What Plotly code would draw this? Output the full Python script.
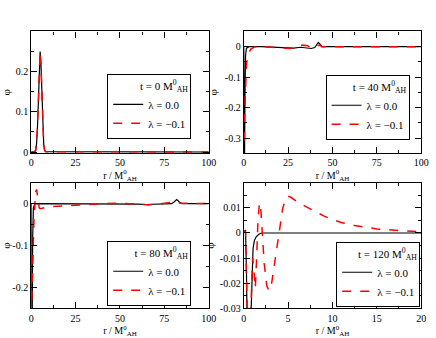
import plotly.graph_objects as go

# t = 0
r_t0 = [0, 2, 2.5, 3, 3.5, 4, 4.5, 5, 5.5, 6, 6.5, 7, 7.5, 8, 100]
phi_t0_l0 = [0, 0.001, 0.005, 0.021, 0.062, 0.135, 0.214, 0.25, 0.214, 0.135, 0.062, 0.021, 0.005, 0.001, 0]
phi_t0_l1 = [0, 0.001, 0.005, 0.021, 0.062, 0.135, 0.214, 0.25, 0.214, 0.135, 0.062, 0.021, 0.005, 0.001, 0]

# t = 40
r_t40_l0 = [0, 0.15, 0.4, 0.7, 1.0, 1.5, 3, 10, 15, 20, 25, 28, 32, 36, 38, 40, 41, 42, 43, 44, 46, 100]
phi_t40_l0 = [0, -0.4, -0.4, -0.15, -0.03, -0.005, 0, 0, -0.002, -0.004, -0.006, -0.005, -0.002, -0.004, -0.006,
              -0.003, 0.005, 0.014, 0.008, 0, 0, 0]
r_t40_l1 = [0.1, 0.3, 0.6, 1.0, 1.5, 2, 2.5, 3, 4, 5, 6, 8, 12, 18, 22, 26, 29, 33, 36, 38, 40, 41.5, 43, 44, 46, 100]
phi_t40_l1 = [-0.31, -0.3, -0.2, -0.1, -0.06, -0.04, -0.028, -0.018, -0.008, -0.003, -0.001, 0, 0, -0.003, -0.005,
              -0.006, -0.002, 0.005, 0.003, -0.005, -0.002, 0.004, 0.005, 0, 0, 0]

# t = 80
r_t80_l0 = [0, 0.15, 0.5, 0.8, 1.2, 2, 10, 50, 60, 65, 70, 75, 79, 80.5, 82, 83.5, 85, 100]
phi_t80_l0 = [0, -0.4, -0.3, -0.08, -0.01, 0, 0, 0, -0.001, -0.002, -0.001, 0, 0, 0.004, 0.01, 0.004, 0, 0]
r_t80_l1 = [0.3, 0.6, 1.0, 1.5, 2.0, 2.5, 3.0, 3.5, 4.0, 4.5, 5, 6, 8, 12, 20, 30, 40, 50, 60, 66, 72, 78, 82, 84,
            90, 100]
phi_t80_l1 = [-0.23, -0.2, -0.12, -0.04, 0.005, 0.028, 0.034, 0.02, 0.0, -0.01, -0.012, -0.011, -0.009, -0.007,
              -0.005, -0.002, 0, 0.001, -0.001, -0.003, -0.001, 0.002, 0.005, 0.001, 0, 0]

# t = 120
r_t120_l0 = [0, 0.1, 0.2, 0.3, 0.4, 0.75, 0.85, 0.95, 1.05, 1.2, 1.4, 1.7, 2.0, 2.5, 20]
phi_t120_l0 = [0, 0.001, 0.0012, -0.015, -0.04, -0.04, -0.025, -0.01, -0.006, -0.003, -0.0015, -0.0005, 0, 0, 0]
r_t120_l1 = [0, 0.1, 0.2, 0.3, 0.45, 0.7, 0.85, 1.0, 1.15, 1.3, 1.45, 1.6, 1.75, 1.85, 1.95, 2.1, 2.3, 2.6, 2.85,
             3.1, 3.5, 3.95, 4.4, 4.8, 5.0, 5.3, 6, 7, 7.5, 8, 9, 10, 11, 12.5, 14, 15, 17.5, 20]
phi_t120_l1 = [0, 0.001, 0, -0.02, -0.04, -0.04, -0.02, -0.01, -0.015, -0.022, -0.01, 0.005, 0.011, 0.012, 0.008,
               -0.001, -0.012, -0.021, -0.023, -0.021, -0.012, 0, 0.01, 0.0142, 0.0146, 0.0142, 0.0125, 0.0105,
               0.0096, 0.0085, 0.0068, 0.0053, 0.0042, 0.003, 0.0021, 0.0016, 0.001, 0.0005]

times = ["0", "40", "80", "120"]
lam_names = ["λ = 0.0", "λ = −0.1"]

xtick_big = [0, 25, 50, 75, 100]
xtick_big_text = ["0", "25", "50", "75", "100"]
xtick_small = [0, 5, 10, 15, 20]
xtick_small_text = ["0", "5", "10", "15", "20"]
ytick_1 = [0, 0.1, 0.2]
ytick_1_text = ["0", "0.1", "0.2"]
ytick_2 = [0, -0.1, -0.2, -0.3]
ytick_2_text = ["0", "-0.1", "-0.2", "-0.3"]
ytick_3 = [0, -0.1, -0.2]
ytick_3_text = ["0", "-0.1", "-0.2"]
ytick_4 = [0.01, 0, -0.01, -0.02, -0.03]
ytick_4_text = ["0.01", "0", "-0.01", "-0.02", "-0.03"]

FONT = "Liberation Serif"
W, H = 436, 338

# pixel boxes of the four plot areas: (x0, x1, ytop, ybottom)
boxes = [(29, 211, 32, 156), (247, 429, 32, 156), (29, 211, 186, 314), (247, 429, 186, 314)]
# legend anchor: (x, y, xanchor, yanchor) in pixels
legend_pos = [(150, 142, "center", "bottom"), (374, 143, "center", "bottom"),
              (150, 312, "center", "bottom"), (428, 313, "right", "bottom")]
ytitle_standoff = [2, 4, 1, 2]

panels = [
    (r_t0, phi_t0_l0, r_t0, phi_t0_l1, [0, 100], [-0.003, 0.3], xtick_big, xtick_big_text, ytick_1, ytick_1_text, 12.5, 0.05),
    (r_t40_l0, phi_t40_l0, r_t40_l1, phi_t40_l1, [0, 100], [-0.35, 0.05], xtick_big, xtick_big_text, ytick_2, ytick_2_text, 12.5, 0.05),
    (r_t80_l0, phi_t80_l0, r_t80_l1, phi_t80_l1, [0, 100], [-0.25, 0.05], xtick_big, xtick_big_text, ytick_3, ytick_3_text, 12.5, 0.05),
    (r_t120_l0, phi_t120_l0, r_t120_l1, phi_t120_l1, [0, 20], [-0.03, 0.02], xtick_small, xtick_small_text, ytick_4, ytick_4_text, 2.5, 0.005),
]

fig = go.Figure()
layout = {}
for i, (rb, pb, rr, pr, xr, yr, xt, xtt, yt, ytt, xminor, yminor) in enumerate(panels):
    n = "" if i == 0 else str(i + 1)
    leg = "legend" + n
    x0, x1, yt0, yb0 = boxes[i]
    fig.add_trace(go.Scatter(x=rb, y=pb, mode="lines", name=lam_names[0], line=dict(color="black", width=1.2),
                             xaxis="x" + n, yaxis="y" + n, legend=leg))
    fig.add_trace(go.Scatter(x=rr, y=pr, mode="lines", name=lam_names[1],
                             line=dict(color="red", width=1.5, dash="dash"),
                             xaxis="x" + n, yaxis="y" + n, legend=leg))
    common = dict(showline=True, linecolor="black", linewidth=1.2, mirror="allticks", ticks="inside", ticklen=6,
                  tickcolor="black", showgrid=False, zeroline=False, tickfont=dict(family=FONT, size=10, color="black"),
                  minor=dict(ticks="inside", ticklen=3, tickcolor="black", showgrid=False))
    layout["xaxis" + n] = dict(common, domain=[x0 / W, x1 / W], range=xr, anchor="y" + n,
                               tickvals=xt, ticktext=xtt, minor=dict(common["minor"], dtick=xminor),
                               title=dict(text="r / M<sup>0</sup><sub>AH</sub>", standoff=0,
                                          font=dict(family=FONT, size=10, color="black")))
    layout["yaxis" + n] = dict(common, domain=[1 - yb0 / H, 1 - yt0 / H], range=yr, anchor="x" + n,
                               tickvals=yt, ticktext=ytt, minor=dict(common["minor"], dtick=yminor),
                               title=dict(text="φ", standoff=ytitle_standoff[i],
                                          font=dict(family=FONT, size=11, color="black")))
    lx, ly, xa, ya = legend_pos[i]
    layout[leg] = dict(x=lx / W, y=1 - ly / H, xanchor=xa, yanchor=ya, bgcolor="white",
                       bordercolor="black", borderwidth=1, itemwidth=30, tracegroupgap=0,
                       font=dict(family=FONT, size=11, color="black"),
                       title=dict(text="t = %s M<sup>0</sup><sub>AH</sub>" % times[i], side="top right",
                                  font=dict(family=FONT, size=11, color="black")))

fig.update_layout(**layout)
fig.update_layout(width=W, height=H, margin=dict(l=0, r=0, t=0, b=0), paper_bgcolor="white",
                  plot_bgcolor="white", showlegend=True, font=dict(family=FONT))
# page body has a default 8px margin; drop it so the figure sits at the window corner
fig.write_html("out.html", config={"displayModeBar": False},
               post_script="document.body.style.margin='0';")
